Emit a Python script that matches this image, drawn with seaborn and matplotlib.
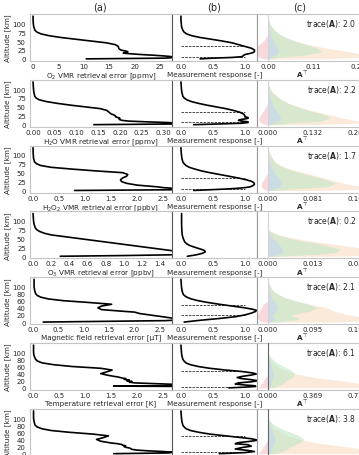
import matplotlib
matplotlib.use("Agg")
import matplotlib.pyplot as plt
import seaborn as sns

# --- stile ---
sns.set_theme(style="white")
plt.rcParams.update({
    'font.family': ['DejaVu Sans'],
    'font.size': 5,
    'xtick.labelsize': 5,
    'ytick.labelsize': 5,
    'axes.labelsize': 5.2,
})

# --- dati colonna (a): errori di retrieval ---
o2_alt = [0, 2, 4, 6, 8, 10, 12, 14, 16, 18, 20, 22, 24, 26, 28, 30, 35, 40, 45, 50, 55, 60, 65, 70, 75, 80, 90, 100, 110, 120]
o2_err = [10.5, 26, 28, 27.5, 26, 24, 21.5, 19.5, 17.8, 18.3, 18.7, 18.3, 17.5, 17.2, 17.0, 16.9, 16.8, 16.2, 14.5, 11.5, 8.5, 5.5, 3.2, 1.6, 0.8, 0.4, 0.15, 0.05, 0.02, 0.01]

h2o_alt = [0, 2, 4, 6, 8, 10, 12, 14, 16, 18, 20, 22, 24, 26, 28, 30, 35, 40, 45, 50, 55, 60, 65, 70, 75, 80, 90, 100, 110, 120]
h2o_err = [0.14, 0.33, 0.34, 0.31, 0.26, 0.22, 0.205, 0.2, 0.198, 0.2, 0.195, 0.19, 0.19, 0.188, 0.185, 0.18, 0.175, 0.17, 0.155, 0.12, 0.085, 0.055, 0.03, 0.014, 0.007, 0.004, 0.002, 0.001, 0.0005, 0.0]

h2o2_alt = [0, 2, 4, 6, 8, 10, 15, 20, 25, 30, 35, 40, 45, 50, 55, 60, 65, 70, 75, 80, 90, 100, 110, 120]
h2o2_err = [0.8, 2.7, 2.8, 2.7, 2.5, 2.4, 2.0, 1.8, 1.7, 1.68, 1.72, 1.8, 1.82, 1.72, 1.2, 0.75, 0.35, 0.15, 0.07, 0.03, 0.01, 0.005, 0.002, 0.0]

o3_alt = [0, 2, 4, 6, 8, 10, 15, 20, 25, 30, 35, 40, 45, 50, 55, 60, 65, 70, 75, 80, 90, 100, 110, 120]
o3_err = [0.3, 1.0, 1.5, 1.7, 1.7, 1.65, 1.55, 1.4, 1.25, 1.1, 0.95, 0.8, 0.65, 0.5, 0.35, 0.2, 0.12, 0.07, 0.04, 0.025, 0.012, 0.006, 0.003, 0.001]

mag_alt = [0, 2, 4, 6, 8, 10, 12, 14, 16, 18, 20, 22, 24, 26, 28, 30, 35, 40, 45, 50, 55, 60, 65, 70, 75, 80, 90, 100, 110, 120]
mag_err = [0.2, 1.4, 2.6, 2.9, 2.9, 2.8, 2.7, 2.6, 2.5, 2.4, 2.3, 2.2, 2.1, 2.05, 2.0, 1.8, 1.35, 1.28, 1.35, 1.55, 1.1, 0.6, 0.3, 0.15, 0.08, 0.05, 0.03, 0.02, 0.02, 0.02]

temp_alt = [0, 4, 5, 6, 10, 12, 14, 16, 18, 20, 22, 24, 26, 28, 30, 35, 40, 45, 50, 55, 60, 65, 70, 75, 80, 90, 100, 110, 120]
temp_err = [2.8, 2.8, 1.55, 2.8, 2.7, 2.3, 1.95, 1.85, 1.9, 1.8, 1.85, 1.75, 1.78, 1.7, 1.65, 1.45, 1.3, 1.42, 1.52, 1.3, 0.75, 0.4, 0.18, 0.09, 0.05, 0.02, 0.01, 0.01, 0.01]

last_alt = [0, 2, 4, 6, 8, 10, 12, 14, 16, 18, 20, 22, 24, 26, 28, 30, 35, 40, 45, 50, 55, 60, 65, 70, 75, 80, 90, 100, 110, 120]
last_err = [1.55, 2.6, 2.7, 2.5, 2.2, 2.0, 1.9, 1.88, 1.85, 1.78, 1.75, 1.78, 1.72, 1.7, 1.62, 1.5, 1.3, 1.22, 1.35, 1.45, 1.15, 0.7, 0.35, 0.17, 0.08, 0.04, 0.02, 0.01, 0.01, 0.01]

err_xlabels = ["O$_2$ VMR retrieval error [ppmv]",
               "H$_2$O VMR retrieval error [ppmv]",
               "H$_2$O$_2$ VMR retrieval error [ppbv]",
               "O$_3$ VMR retrieval error [ppbv]",
               "Magnetic field retrieval error [μT]",
               "Temperature retrieval error [K]",
               ""]
err_ticks = [[0, 5, 10, 15, 20, 25],
             [0, 0.05, 0.10, 0.15, 0.20, 0.25, 0.30],
             [0, 0.5, 1.0, 1.5, 2.0, 2.5],
             [0, 0.2, 0.4, 0.6, 0.8, 1.0, 1.2, 1.4],
             [0, 0.5, 1.0, 1.5, 2.0, 2.5],
             [0, 0.5, 1.0, 1.5, 2.0, 2.5],
             [0, 0.5, 1.0, 1.5, 2.0, 2.5]]
err_ticklabels = [["0", "5", "10", "15", "20", "25"],
                  ["0.00", "0.05", "0.10", "0.15", "0.20", "0.25", "0.30"],
                  ["0.0", "0.5", "1.0", "1.5", "2.0", "2.5"],
                  ["0.0", "0.2", "0.4", "0.6", "0.8", "1.0", "1.2", "1.4"],
                  ["0.0", "0.5", "1.0", "1.5", "2.0", "2.5"],
                  ["0.0", "0.5", "1.0", "1.5", "2.0", "2.5"],
                  ["0.0", "0.5", "1.0", "1.5", "2.0", "2.5"]]
err_xlims = [(-0.59, 27.4), (-0.007, 0.32), (-0.058, 2.67), (-0.033, 1.53),
             (-0.06, 2.74), (-0.058, 2.67), (-0.058, 2.67)]

# --- dati colonna (b): measurement response ---
r1_alt = [0, 2, 4, 6, 8, 10, 12, 14, 16, 18, 20, 25, 30, 35, 40, 45, 50, 55, 60, 65, 70, 75, 80, 90, 100, 110, 120]
r1_val = [0.3, 0.5, 0.8, 0.95, 0.97, 0.98, 1.0, 1.05, 1.1, 1.13, 1.15, 1.15, 1.1, 1.0, 0.9, 0.8, 0.65, 0.48, 0.3, 0.17, 0.09, 0.05, 0.03, 0.01, 0.005, 0.0, 0.0]
r2_alt = [0, 2, 4, 6, 8, 10, 12, 14, 16, 18, 20, 22, 25, 30, 35, 40, 45, 50, 55, 60, 65, 70, 75, 80, 90, 100, 110, 120]
r2_val = [0.2, 0.6, 0.95, 1.05, 1.05, 0.95, 0.9, 0.92, 1.0, 1.05, 1.05, 1.0, 1.0, 0.98, 0.92, 0.82, 0.7, 0.55, 0.4, 0.27, 0.16, 0.09, 0.05, 0.03, 0.015, 0.008, 0.004, 0.0]
r3_alt = [0, 2, 4, 6, 8, 10, 14, 18, 22, 26, 30, 35, 40, 45, 50, 55, 60, 65, 70, 75, 80, 90, 100, 110, 120]
r3_val = [0.2, 0.45, 0.7, 0.88, 1.0, 1.08, 1.13, 1.15, 1.14, 1.1, 1.02, 0.9, 0.75, 0.6, 0.45, 0.32, 0.22, 0.13, 0.08, 0.05, 0.03, 0.015, 0.008, 0.003, 0.0]
r4_alt = [0, 4, 8, 12, 16, 20, 25, 30, 35, 40, 50, 60, 70, 80, 90, 100, 110, 120]
r4_val = [0.1, 0.24, 0.33, 0.38, 0.37, 0.31, 0.22, 0.14, 0.09, 0.06, 0.035, 0.02, 0.015, 0.012, 0.01, 0.01, 0.01, 0.01]
r5_alt = [0, 5, 10, 15, 20, 25, 30, 33, 36, 40, 45, 50, 55, 60, 65, 70, 75, 80, 90, 100, 110, 120]
r5_val = [0.05, 0.3, 0.6, 0.85, 1.0, 1.1, 1.17, 1.18, 1.12, 1.0, 0.8, 0.6, 0.42, 0.27, 0.16, 0.09, 0.05, 0.03, 0.015, 0.008, 0.004, 0.0]
r6_alt = [0, 2, 4, 6, 8, 11, 14, 17, 20, 23, 26, 29, 32, 36, 39, 42, 46, 50, 55, 60, 65, 70, 75, 80, 90, 100, 110, 120]
r6_val = [0.75, 1.0, 1.17, 1.15, 1.0, 0.85, 0.9, 1.1, 1.2, 1.1, 0.95, 0.88, 0.95, 1.1, 1.18, 1.12, 0.95, 0.7, 0.45, 0.27, 0.15, 0.08, 0.05, 0.03, 0.015, 0.008, 0.004, 0.0]
r7_alt = [0, 3, 6, 9, 13, 17, 21, 25, 28, 31, 35, 38, 42, 46, 50, 55, 60, 65, 70, 75, 80, 90, 100, 110, 120]
r7_val = [0.6, 1.0, 1.15, 1.05, 0.85, 0.95, 1.1, 1.05, 0.85, 0.9, 1.1, 1.2, 1.1, 0.9, 0.7, 0.45, 0.28, 0.15, 0.08, 0.05, 0.03, 0.015, 0.008, 0.004, 0.0]

# quote delle linee tratteggiate (nessuna per O3)
dash_alts = [[37, 6], [35, 7], [36, 5], [], [49, 21], [47, 3], [50, 6]]

# --- dati colonna (c): averaging kernel (inviluppi, in unita' del passo di tick) ---
ak_alt = [0, 5, 10, 20, 30, 40, 50, 60, 70, 80, 90, 100, 110]
ak_orange = [
    [1.2, 2.3, 2.2, 1.8, 1.3, 0.9, 0.6, 0.4, 0.25, 0.15, 0.08, 0.04, 0.02],
    [1.0, 2.2, 2.0, 1.6, 1.3, 0.95, 0.7, 0.45, 0.3, 0.2, 0.1, 0.05, 0.02],
    [1.2, 2.3, 2.1, 1.7, 1.4, 1.1, 0.8, 0.5, 0.3, 0.15, 0.1, 0.05, 0.02],
    [1.5, 2.5, 2.5, 2.2, 1.7, 1.1, 0.6, 0.25, 0.05, 0.0, 0.0, 0.0, 0.0],
    [1.5, 2.4, 2.3, 1.8, 1.5, 1.3, 0.9, 0.6, 0.35, 0.2, 0.1, 0.05, 0.02],
    [2.0, 2.4, 2.2, 1.6, 1.0, 0.6, 0.35, 0.2, 0.1, 0.05, 0.02, 0.0, 0.0],
    [2.0, 2.4, 2.3, 1.7, 1.1, 0.7, 0.45, 0.3, 0.15, 0.07, 0.03, 0.0, 0.0],
]
ak_green = [
    [0.1, 0.3, 0.8, 1.2, 1.1, 0.85, 0.6, 0.4, 0.25, 0.15, 0.08, 0.04, 0.02],
    [0.2, 0.5, 1.2, 1.4, 1.2, 0.9, 0.65, 0.45, 0.3, 0.2, 0.1, 0.05, 0.02],
    [0.2, 0.6, 1.3, 1.5, 1.3, 1.0, 0.7, 0.45, 0.25, 0.15, 0.1, 0.05, 0.02],
    [0.3, 1.0, 1.5, 1.6, 1.3, 0.9, 0.5, 0.2, 0.05, 0.0, 0.0, 0.0, 0.0],
    [0.2, 0.6, 0.7, 0.5, 0.9, 1.1, 0.9, 0.6, 0.35, 0.2, 0.1, 0.05, 0.02],
    [0.1, 0.2, 0.3, 0.4, 0.55, 0.6, 0.5, 0.35, 0.2, 0.1, 0.03, 0.0, 0.0],
    [0.15, 0.3, 0.4, 0.5, 0.7, 0.8, 0.7, 0.5, 0.3, 0.15, 0.05, 0.0, 0.0],
]
ak_pink = [
    [-0.1, -0.2, -0.25, -0.3, -0.3, -0.2, -0.1, -0.05, 0, 0, 0, 0, 0],
    [-0.05, -0.15, -0.2, -0.2, -0.15, -0.1, -0.05, 0, 0, 0, 0, 0, 0],
    [-0.05, -0.1, -0.15, -0.15, -0.1, -0.05, 0, 0, 0, 0, 0, 0, 0],
    [0, 0, 0, 0, 0, 0, 0, 0, 0, 0, 0, 0, 0],
    [-0.1, -0.2, -0.25, -0.25, -0.2, -0.15, -0.1, 0, 0, 0, 0, 0, 0],
    [-0.2, -0.2, -0.15, -0.1, -0.05, 0, 0, 0, 0, 0, 0, 0, 0],
    [-0.2, -0.2, -0.15, -0.1, -0.05, 0, 0, 0, 0, 0, 0, 0, 0],
]
ak_steps = [0.11, 0.132, 0.081, 0.013, 0.095, 0.369, 0.3]
ak_ticklabels = [["0.00", "0.11", "0.22"], ["0.000", "0.132", "0.264"],
                 ["0.000", "0.081", "0.162"], ["0.000", "0.013", "0.026"],
                 ["0.000", "0.095", "0.190"], ["0.000", "0.369", "0.738"],
                 ["0.000", "0.300", "0.600"]]
traces = ["2.0", "2.2", "1.7", "0.2", "2.1", "6.1", "3.8"]

err_alts = [o2_alt, h2o_alt, h2o2_alt, o3_alt, mag_alt, temp_alt, last_alt]
err_vals = [o2_err, h2o_err, h2o2_err, o3_err, mag_err, temp_err, last_err]
resp_alts = [r1_alt, r2_alt, r3_alt, r4_alt, r5_alt, r6_alt, r7_alt]
resp_vals = [r1_val, r2_val, r3_val, r4_val, r5_val, r6_val, r7_val]

# --- layout (pixel) ---
W, H = 359, 456
fig = plt.figure(figsize=(W / 100, H / 100), dpi=100)

def box(x0, x1, top, h):
    return [x0 / W, 1 - (top + h) / H, (x1 - x0) / W, h / H]

SPINE = '#c4c4c4'
row_h = 47
C_LEFT, C_RIGHT = 257, 390
for i in range(7):
    top = 15 + 65.8 * i
    ax_a = fig.add_axes(box(30, 172, top, row_h))
    ax_b = fig.add_axes(box(172, 257, top, row_h))
    ax_c = fig.add_axes(box(C_LEFT, C_RIGHT, top, row_h))
    yt = [0, 25, 50, 75, 100] if i < 4 else [0, 20, 40, 60, 80, 100]

    for ax in (ax_a, ax_b, ax_c):
        ax.set_ylim(-6, 126)
        ax.set_yticks(yt)
        for s in ax.spines.values():
            s.set_color(SPINE)
            s.set_linewidth(0.8)
        ax.tick_params(axis='x', length=0, pad=1.5)
        ax.tick_params(axis='y', length=2, width=0.5, color='#888888', pad=1)
    ax_b.spines['left'].set_color('#555555')
    ax_c.spines['left'].set_color('#999999')

    # (a) errore
    sns.lineplot(x=err_vals[i], y=err_alts[i], orient='y', sort=False, estimator=None,
                 color='black', linewidth=1.2, ax=ax_a)
    ax_a.set_xlim(*err_xlims[i])
    ax_a.set_xticks(err_ticks[i])
    ax_a.set_xticklabels(err_ticklabels[i])
    ax_a.set_xlabel(err_xlabels[i], labelpad=1)
    ax_a.set_ylabel("Altitude [km]", labelpad=1)

    # (b) measurement response
    sns.lineplot(x=resp_vals[i], y=resp_alts[i], orient='y', sort=False, estimator=None,
                 color='black', linewidth=1.2, ax=ax_b)
    for a in dash_alts[i]:
        ax_b.hlines(a, 0, 1.0, colors='black', linestyles='--', linewidth=0.5)
    ax_b.set_xlim(-0.14, 1.19)
    ax_b.set_xticks([0, 0.5, 1.0])
    ax_b.set_xticklabels(["0.0", "0.5", "1.0"])
    ax_b.set_yticklabels([])
    ax_b.set_xlabel("Measurement response [-]" if i < 6 else "", labelpad=1)

    # (c) averaging kernel
    m = ak_steps[i]
    orange = [v * m for v in ak_orange[i]]
    green = [v * m for v in ak_green[i]]
    pink = [v * m for v in ak_pink[i]]
    ax_c.fill_betweenx(ak_alt, 0, orange, color='#f9d9bb', alpha=0.55, linewidth=0)
    ax_c.fill_betweenx(ak_alt, 0, green, color='#bfe8c8', alpha=0.6, linewidth=0)
    ax_c.fill_betweenx(ak_alt, pink, 0, color='#f4c0c6', alpha=0.6, linewidth=0)
    ax_c.fill_betweenx(ak_alt, 0, [g * 0.2 for g in green], color='#c4d6f4', alpha=0.6, linewidth=0)
    vcol = '#666666' if i >= 5 else '#ddd0dc'
    ax_c.axvline(0, color=vcol, linewidth=0.8, zorder=3)
    px_m = 45.0
    ax_c.set_xlim(-(268 - C_LEFT) / px_m * m, (C_RIGHT - 268) / px_m * m)
    ax_c.set_xticks([0, m, 2 * m])
    ax_c.set_xticklabels(ak_ticklabels[i])
    ax_c.set_yticklabels([])
    ax_c.set_xlabel(r"$\mathbf{A}^\top$" if i < 6 else "", labelpad=1)
    ax_c.xaxis.set_label_coords((302 - C_LEFT) / (C_RIGHT - C_LEFT), -0.16)
    ax_c.text((356 - C_LEFT) / (C_RIGHT - C_LEFT), 0.81, r"trace($\mathbf{A}$): " + traces[i],
              transform=ax_c.transAxes, ha='right', va='center', fontsize=5.5)

# intestazioni colonne
for lab, xp in zip(["(a)", "(b)", "(c)"], [100, 214, 300]):
    fig.text(xp / W, 1 - 8 / H, lab, ha='center', va='center', fontsize=7)

plt.savefig('out.png', dpi=100)
plt.close()
